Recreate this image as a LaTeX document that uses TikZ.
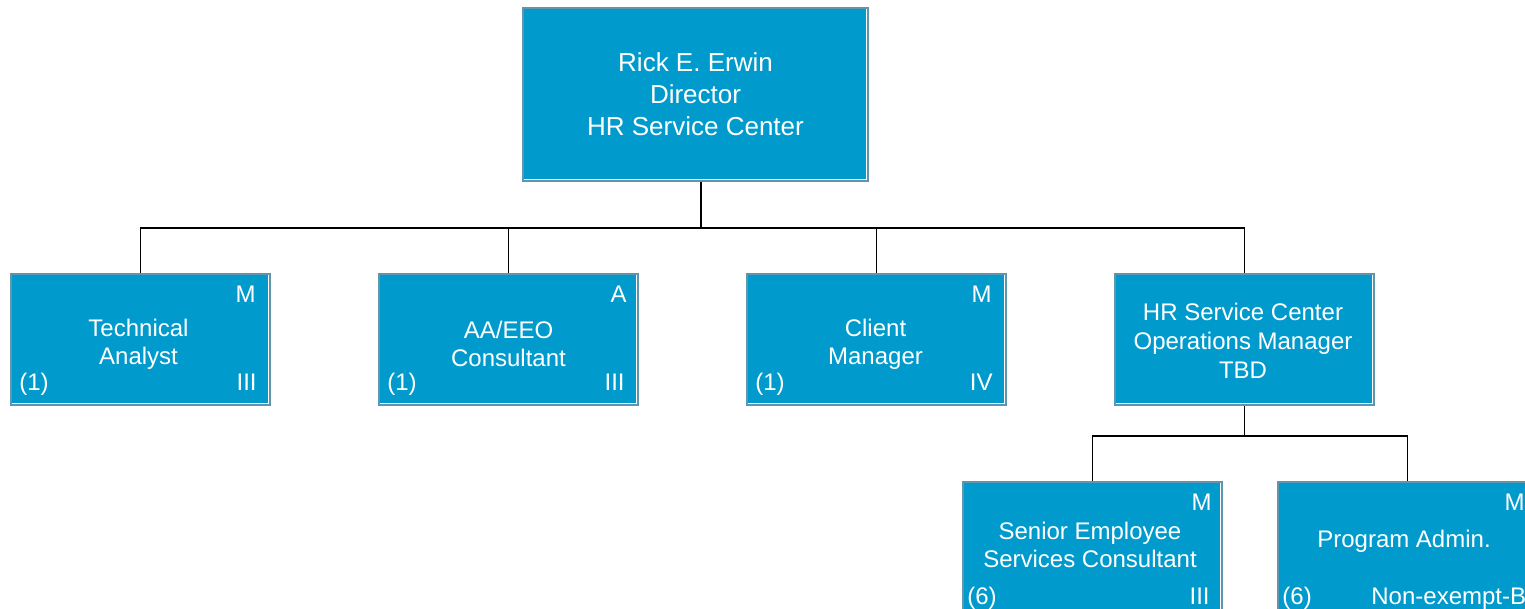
\documentclass[tikz,border=0pt]{standalone}
\usepackage{fontspec}
\setmainfont{Liberation Sans}
\definecolor{boxfill}{HTML}{009BCC}
\definecolor{boxedge}{HTML}{5F95AD}
\begin{document}
\begin{tikzpicture}[x=1pt,y=-1pt,
  box/.style={draw=boxedge, line width=1.6pt, fill=boxfill,
    inner sep=0pt, minimum width=259pt, minimum height=131pt},
  txt/.style={text=white, align=center, inner sep=0pt, font=\fontsize{24}{28}\selectfont},
  corner/.style={text=white, inner sep=0pt, font=\fontsize{24}{28}\selectfont},
  conn/.style={draw=black, line width=1.6pt}]
\useasboundingbox (0,0) rectangle (1525,609);
\clip (0,0) rectangle (1525,609);
\fill[white] (0,0) rectangle (1525,609);
% boxes
\node[box, minimum width=345pt, minimum height=173pt] (top) at (695.5,94.5) {};
\node[box] (b1) at (140.5,339.5) {};
\node[box] (b2) at (508.5,339.5) {};
\node[box] (b3) at (876.5,339.5) {};
\node[box] (b4) at (1244.5,339.5) {};
\node[box, minimum height=140pt] (b5) at (1092.5,552) {};
\node[box, minimum height=140pt] (b6) at (1407.5,552) {};
% inner highlight lines
\foreach \n in {top,b1,b2,b3,b4,b5,b6}{
  \draw[white, line width=1pt] ([xshift=2.2pt,yshift=2.2pt]\n.south west) -- ([xshift=-2.2pt,yshift=2.2pt]\n.south east) -- ([xshift=-2.2pt,yshift=-2.2pt]\n.north east);
}
% texts
\node[txt, font=\fontsize{26}{32}\selectfont] (topt) at (695.5,94.5) {Rick E. Erwin\\Director\\HR Service Center};
\node[txt] (b1t) at (138.5,344) {Technical\\Analyst};
\node[txt] (b2t) at (508.5,344) {AA/EEO\\Consultant};
\node[txt] (b3t) at (875.5,344) {Client\\Manager};
\node[txt, font=\fontsize{24}{29}\selectfont] (b4t) at (1243,340.5) {HR Service Center\\Operations Manager\\TBD};
\node[txt] (b5t) at (1090,545) {Senior Employee\\Services Consultant};
\node[txt] (b6t) at (1404,541) {Program Admin.};
% corner labels
\node[corner, anchor=base east] (b1m) at ([xshift=-15pt,yshift=-29pt]b1.north east) {M};
\node[corner, anchor=base west] (b1n) at ([xshift=9pt,yshift=15pt]b1.south west) {(1)};
\node[corner, anchor=base east] (b1g) at ([xshift=-14pt,yshift=15pt]b1.south east) {III};
\node[corner, anchor=base east] (b2m) at ([xshift=-12pt,yshift=-29pt]b2.north east) {A};
\node[corner, anchor=base west] (b2n) at ([xshift=9pt,yshift=15pt]b2.south west) {(1)};
\node[corner, anchor=base east] (b2g) at ([xshift=-14pt,yshift=15pt]b2.south east) {III};
\node[corner, anchor=base east] (b3m) at ([xshift=-15pt,yshift=-29pt]b3.north east) {M};
\node[corner, anchor=base west] (b3n) at ([xshift=9pt,yshift=15pt]b3.south west) {(1)};
\node[corner, anchor=base east] (b3g) at ([xshift=-14pt,yshift=15pt]b3.south east) {IV};
\node[corner, anchor=base east] (b5m) at ([xshift=-11pt,yshift=-29pt]b5.north east) {M};
\node[corner, anchor=base west] (b5n) at ([xshift=5pt,yshift=18pt]b5.south west) {(6)};
\node[corner, anchor=base east] (b5g) at ([xshift=-13pt,yshift=18pt]b5.south east) {III};
\node[corner, anchor=base east] (b6m) at ([xshift=-13pt,yshift=-29pt]b6.north east) {M};
\node[corner, anchor=base west] (b6n) at ([xshift=5pt,yshift=18pt]b6.south west) {(6)};
\node[corner, anchor=base west] (b6g) at ([xshift=94pt,yshift=18pt]b6.south west) {Non-exempt-B};
% connectors
\coordinate (j0) at (701,228);
\coordinate (j1) at (1244.5,436);
\draw[conn] (top.south -| j0) -- (j0);
\draw[conn] (b1.north) |- (j0) -| (b4.north);
\draw[conn] (b2.north) -- (b2.north |- j0);
\draw[conn] (b3.north) -- (b3.north |- j0);
\draw[conn] (b4.south) -- (j1);
\draw[conn] (b5.north) |- (j1) -| (b6.north);
\end{tikzpicture}
\end{document}
